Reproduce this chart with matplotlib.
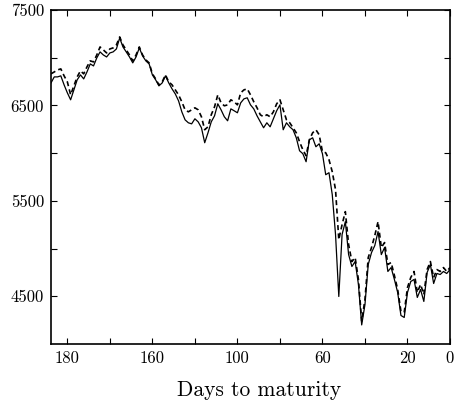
import matplotlib
matplotlib.use("Agg")
import matplotlib.pyplot as plt
import numpy as np

# trading-day index (left to right)
day_index = list(range(123))

solid_values = [
    6736, 6799, 6799, 6810, 6716, 6632, 6559, 6663, 6768, 6820,
    6778, 6851, 6935, 6914, 6998, 7061, 7029, 7008, 7050, 7061,
    7092, 7207, 7113, 7061, 7008, 6946, 7008, 7103, 7019, 6967,
    6935, 6820, 6768, 6705, 6736, 6810, 6736, 6674, 6621, 6548,
    6433, 6349, 6318, 6307, 6360, 6328, 6266, 6109, 6213, 6328,
    6391, 6517, 6454, 6381, 6339, 6464, 6444, 6423, 6527, 6569,
    6580, 6506, 6464, 6391, 6328, 6266, 6318, 6276, 6360, 6444,
    6506, 6245, 6318, 6276, 6245, 6161, 6025, 5994, 5910, 6140,
    6161, 6067, 6098, 5994, 5774, 5795, 5565, 5147, 4498, 5147,
    5282, 4937, 4812, 4864, 4624, 4200, 4414, 4833, 4958, 5031,
    5178, 4937, 5011, 4760, 4801, 4676, 4540, 4299, 4278, 4540,
    4655, 4676, 4488, 4571, 4446, 4749, 4833, 4634, 4739, 4728,
    4760, 4739, 4780,
]

dashed_values = [
    6831, 6851, 6872, 6883, 6810, 6747, 6611, 6705, 6799, 6862,
    6831, 6904, 6967, 6956, 7029, 7113, 7082, 7050, 7092, 7103,
    7134, 7218, 7134, 7082, 7029, 6967, 7029, 7113, 7029, 6977,
    6946, 6831, 6778, 6716, 6747, 6820, 6747, 6716, 6663, 6611,
    6538, 6454, 6433, 6454, 6475, 6454, 6381, 6245, 6276, 6402,
    6485, 6611, 6527, 6496, 6506, 6559, 6538, 6506, 6632, 6663,
    6674, 6611, 6538, 6475, 6402, 6381, 6402, 6381, 6433, 6517,
    6559, 6454, 6349, 6318, 6266, 6213, 6119, 6036, 5973, 6140,
    6213, 6245, 6192, 6015, 6004, 5931, 5805, 5617, 5094, 5251,
    5387, 5042, 4864, 4906, 4676, 4240, 4467, 4906, 5011, 5136,
    5282, 5011, 5063, 4833, 4854, 4718, 4571, 4341, 4331, 4592,
    4697, 4760, 4540, 4624, 4519, 4780, 4864, 4697, 4780, 4760,
    4801, 4760, 4801,
]

x_tick_pos = [5, 18, 31, 44, 57, 70, 83, 96, 109, 122]
x_tick_labels = ["180", "", "160", "", "100", "", "60", "", "20", "0"]
y_tick_pos = [4500, 5000, 5500, 6000, 6500, 7000, 7500]
y_tick_labels = ["4500", "", "5500", "", "6500", "", "7500"]

plt.rcParams["font.family"] = "cmr10"
plt.rcParams["mathtext.fontset"] = "cm"
plt.rcParams["axes.formatter.use_mathtext"] = True

fig = plt.figure(figsize=(4.54, 4.03), dpi=100)
ax = fig.add_axes([51 / 454, 1 - 344 / 403, 399 / 454, 334 / 403])

ax.plot(day_index, solid_values, color="black", lw=0.9)
ax.plot(day_index, dashed_values, color="black", lw=1.2, dashes=(3, 2))

ax.set_xlim(0, 122)
ax.set_ylim(4000, 7500)
ax.set_xticks(x_tick_pos)
ax.set_xticklabels(x_tick_labels)
ax.set_yticks(y_tick_pos)
ax.set_yticklabels(y_tick_labels)
ax.tick_params(direction="in", length=4, width=0.8, top=True, right=True,
               labelsize=12, pad=5)
for s in ax.spines.values():
    s.set_linewidth(1.2)

ax.set_xlabel("Days to maturity", fontsize=15.5)
ax.xaxis.set_label_coords(0.522, -0.108)
ax.xaxis.label.set_va("top")

fig.savefig("out.png", dpi=100)
